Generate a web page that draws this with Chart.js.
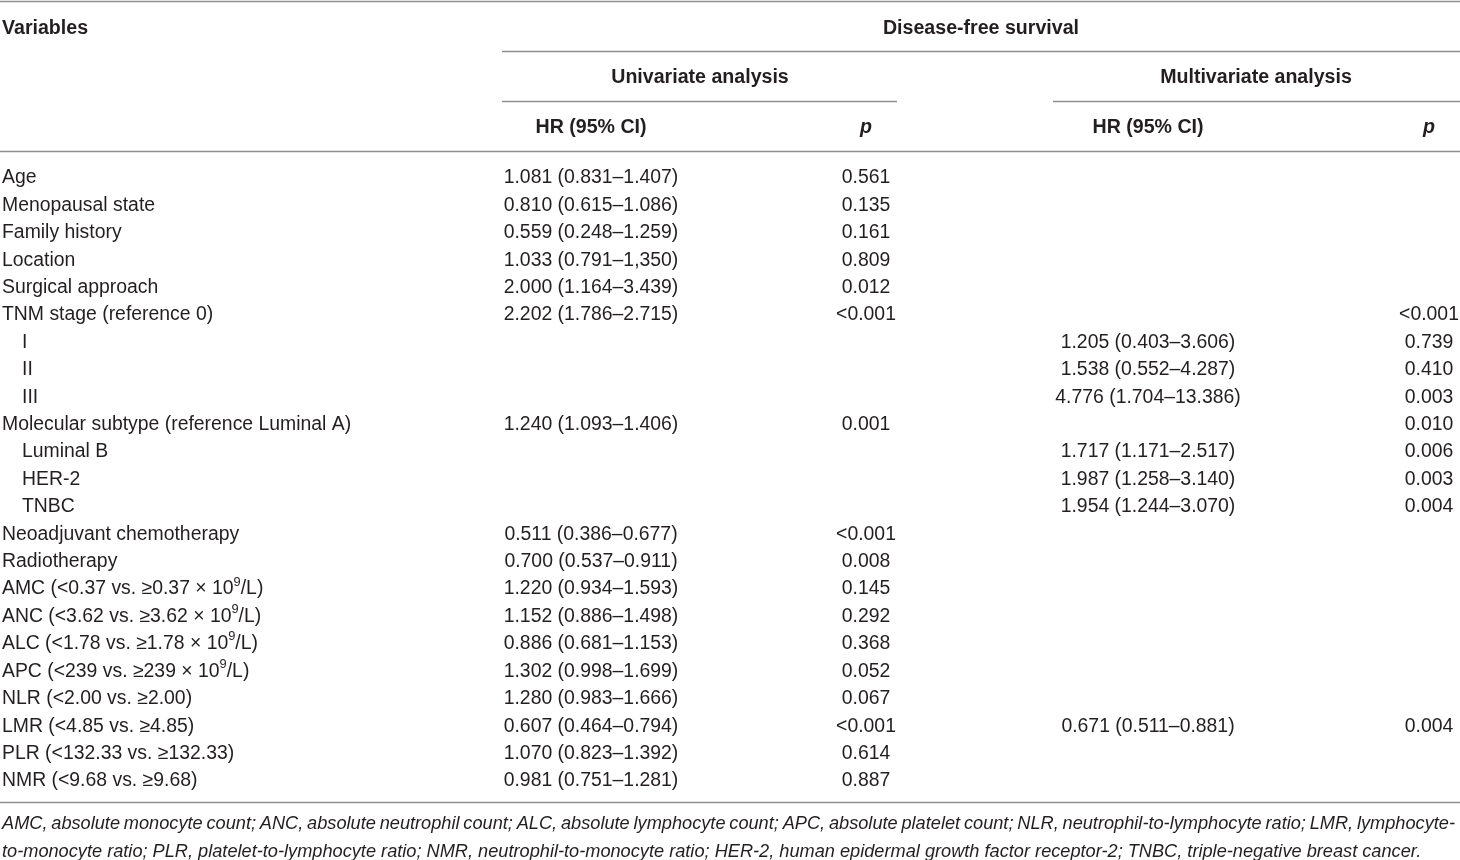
<!DOCTYPE html>
<html>
<head>
<meta charset="utf-8">
<script src="https://cdn.jsdelivr.net/npm/chart.js@4.4.1/dist/chart.umd.min.js"></script>
<style>
  html, body { margin: 0; padding: 0; background: #ffffff; }
  #wrap { position: relative; width: 1460px; height: 860px; }
</style>
</head>
<body>
<div id="wrap"><canvas id="c"></canvas></div>
<script>
// ---------------- DATA ----------------
const variables = [
  "Age", "Menopausal state", "Family history", "Location", "Surgical approach",
  "TNM stage (reference 0)", "I", "II", "III",
  "Molecular subtype (reference Luminal A)", "Luminal B", "HER-2", "TNBC",
  "Neoadjuvant chemotherapy", "Radiotherapy",
  "AMC (<0.37 vs. \u22650.37 \u00d7 10^9/L)",
  "ANC (<3.62 vs. \u22653.62 \u00d7 10^9/L)",
  "ALC (<1.78 vs. \u22651.78 \u00d7 10^9/L)",
  "APC (<239 vs. \u2265239 \u00d7 10^9/L)",
  "NLR (<2.00 vs. \u22652.00)",
  "LMR (<4.85 vs. \u22654.85)",
  "PLR (<132.33 vs. \u2265132.33)",
  "NMR (<9.68 vs. \u22659.68)"
];
const subLevel = [0,0,0,0,0,0,1,1,1,0,1,1,1,0,0,0,0,0,0,0,0,0,0];

const uniHR = [
  "1.081 (0.831\u20131.407)", "0.810 (0.615\u20131.086)", "0.559 (0.248\u20131.259)",
  "1.033 (0.791\u20131,350)", "2.000 (1.164\u20133.439)", "2.202 (1.786\u20132.715)",
  null, null, null,
  "1.240 (1.093\u20131.406)", null, null, null,
  "0.511 (0.386\u20130.677)", "0.700 (0.537\u20130.911)", "1.220 (0.934\u20131.593)",
  "1.152 (0.886\u20131.498)", "0.886 (0.681\u20131.153)", "1.302 (0.998\u20131.699)",
  "1.280 (0.983\u20131.666)", "0.607 (0.464\u20130.794)", "1.070 (0.823\u20131.392)",
  "0.981 (0.751\u20131.281)"
];
const uniP = [
  "0.561", "0.135", "0.161", "0.809", "0.012", "<0.001", null, null, null,
  "0.001", null, null, null, "<0.001", "0.008", "0.145", "0.292", "0.368",
  "0.052", "0.067", "<0.001", "0.614", "0.887"
];
const multiHR = [
  null, null, null, null, null, null,
  "1.205 (0.403\u20133.606)", "1.538 (0.552\u20134.287)", "4.776 (1.704\u201313.386)",
  null,
  "1.717 (1.171\u20132.517)", "1.987 (1.258\u20133.140)", "1.954 (1.244\u20133.070)",
  null, null, null, null, null, null, null,
  "0.671 (0.511\u20130.881)", null, null
];
const multiP = [
  null, null, null, null, null, "<0.001", "0.739", "0.410", "0.003",
  "0.010", "0.006", "0.003", "0.004", null, null, null, null, null, null, null,
  "0.004", null, null
];

const headerTop = ["Variables", "Disease-free survival"];
const headerMid = ["Univariate analysis", "Multivariate analysis"];
const headerLow = ["HR (95% CI)", "p", "HR (95% CI)", "p"];
const footnote = [
  "AMC, absolute monocyte count; ANC, absolute neutrophil count; ALC, absolute lymphocyte count; APC, absolute platelet count; NLR, neutrophil-to-lymphocyte ratio; LMR, lymphocyte-",
  "to-monocyte ratio; PLR, platelet-to-lymphocyte ratio; NMR, neutrophil-to-monocyte ratio; HER-2, human epidermal growth factor receptor-2; TNBC, triple-negative breast cancer."
];

// ---------------- LAYOUT ----------------
const FIRST_ROW_PX = 176, LAST_ROW_PX = 779;
const PITCH = (LAST_ROW_PX - FIRST_ROW_PX) / (variables.length - 1);
const rowAt = px => (px - FIRST_ROW_PX) / PITCH;   // convert layout pixel to row units
const TEXT_DY = 2;                                  // baseline nudge for 'middle'
const COL = { varX: 2, varIndent: 22, uniHR: 591, uniP: 866, multiHR: 1148, multiP: 1429,
              dfs: 981, uni: 700, multi: 1256 };
const ROWS = { top: rowAt(27), mid: rowAt(76), low: rowAt(126),
               rule0: rowAt(1), rule1: rowAt(50.5), rule2: rowAt(100.5), rule3: rowAt(150.5),
               rule4: rowAt(802), foot1: rowAt(822), foot2: rowAt(850) };
const FAM = '"Liberation Sans", Arial, Helvetica, sans-serif';
const TXT = '#231f20';
const RULE = '#8f8f8f';
const REG = '19.4px ' + FAM;
const BOLD = 'bold 19.6px ' + FAM;
const FOOT_JUSTIFY = 1453;

function pts(arr, xf, extra) {
  const out = [];
  arr.forEach((t, i) => { if (t !== null) out.push(Object.assign({ x: xf(i), y: i, text: t }, extra || {})); });
  return out;
}

const datasets = [
  { label: 'Variables', data: pts(variables, i => subLevel[i] ? COL.varIndent : COL.varX), align: 'left', font: REG },
  { label: 'Univariate HR', data: pts(uniHR, () => COL.uniHR), align: 'center', font: REG },
  { label: 'Univariate p', data: pts(uniP, () => COL.uniP), align: 'center', font: REG },
  { label: 'Multivariate HR', data: pts(multiHR, () => COL.multiHR), align: 'center', font: REG },
  { label: 'Multivariate p', data: pts(multiP, () => COL.multiP), align: 'center', font: REG },
  { label: 'Header top', data: [
      { x: COL.varX, y: ROWS.top, text: headerTop[0], align: 'left' },
      { x: COL.dfs, y: ROWS.top, text: headerTop[1] } ], align: 'center', font: BOLD },
  { label: 'Header mid', data: [
      { x: COL.uni, y: ROWS.mid, text: headerMid[0] },
      { x: COL.multi, y: ROWS.mid, text: headerMid[1] } ], align: 'center', font: BOLD },
  { label: 'Header low', data: [
      { x: COL.uniHR, y: ROWS.low, text: headerLow[0] },
      { x: COL.uniP, y: ROWS.low, text: headerLow[1], font: 'italic bold 19.6px ' + FAM },
      { x: COL.multiHR, y: ROWS.low, text: headerLow[2] },
      { x: COL.multiP, y: ROWS.low, text: headerLow[3], font: 'italic bold 19.6px ' + FAM } ], align: 'center', font: BOLD },
  { label: 'Footnote', data: footnote.map((t, k) => ({ x: COL.varX, y: k === 0 ? ROWS.foot1 : ROWS.foot2, text: t, justify: k === 0 ? FOOT_JUSTIFY : 0 })),
    align: 'left', font: 'italic 18.2px ' + FAM }
];
datasets.forEach(d => { d.pointRadius = 0; d.pointHoverRadius = 0; d.showLine = false; });

// horizontal rules: [y (row units), x0, x1]
const rules = [
  [ROWS.rule0, 0, 1460], [ROWS.rule1, 502, 1460], [ROWS.rule2, 502, 897], [ROWS.rule2, 1053, 1460],
  [ROWS.rule3, 0, 1460], [ROWS.rule4, 0, 1460]
];

const SUP = 0.66;
function supFont(font, size) { return font.replace(/[\d.]+px/, (size * SUP).toFixed(1) + 'px'); }
function richWidth(ctx, text, font, size) {
  const parts = text.split(/\^(\d+)/);
  let w = 0;
  parts.forEach((p, k) => {
    ctx.font = k % 2 ? supFont(font, size) : font;
    w += ctx.measureText(p).width;
  });
  return w;
}
function drawRich(ctx, text, x, y, align, font, justify) {
  const size = parseFloat(font.match(/([\d.]+)px/)[1]);
  ctx.textAlign = 'left';
  ctx.textBaseline = 'middle';
  y += TEXT_DY;
  if (justify) {
    ctx.font = font;
    const words = text.split(' ');
    const ww = words.map(w => ctx.measureText(w).width);
    const total = ww.reduce((a, b) => a + b, 0);
    const gap = (justify - total) / (words.length - 1);
    let cx = x;
    words.forEach((w, k) => { ctx.fillText(w, cx, y); cx += ww[k] + gap; });
    return;
  }
  const w = richWidth(ctx, text, font, size);
  let cx = align === 'center' ? x - w / 2 : (align === 'right' ? x - w : x);
  const parts = text.split(/\^(\d+)/);
  parts.forEach((p, k) => {
    if (k % 2) {
      ctx.font = supFont(font, size);
      ctx.fillText(p, cx, y - size * 0.36);
    } else {
      ctx.font = font;
      ctx.fillText(p, cx, y);
    }
    cx += ctx.measureText(p).width;
  });
}

const tablePlugin = {
  id: 'tablePlugin',
  afterDatasetsDraw(chart) {
    const ctx = chart.ctx;
    const xs = chart.scales.x, ys = chart.scales.y;
    ctx.save();
    ctx.strokeStyle = RULE;
    ctx.lineWidth = 1.4;
    rules.forEach(([r, x0, x1]) => {
      const y = Math.round(ys.getPixelForValue(r)) + 0.5;
      ctx.beginPath();
      ctx.moveTo(xs.getPixelForValue(x0), y);
      ctx.lineTo(xs.getPixelForValue(x1), y);
      ctx.stroke();
    });
    ctx.fillStyle = TXT;
    chart.data.datasets.forEach((ds, di) => {
      const meta = chart.getDatasetMeta(di);
      meta.data.forEach((el, j) => {
        const raw = ds.data[j];
        drawRich(ctx, raw.text, el.x, el.y, raw.align || ds.align, raw.font || ds.font, raw.justify);
      });
    });
    ctx.restore();
  }
};

new Chart(document.getElementById('c'), {
  type: 'scatter',
  data: { datasets },
  options: {
    responsive: true,
    maintainAspectRatio: false,
    animation: false,
    events: [],
    layout: { padding: 0 },
    plugins: { legend: { display: false }, tooltip: { enabled: false } },
    scales: {
      x: { type: 'linear', min: 0, max: 1460, display: false },
      y: { type: 'linear', reverse: true, min: rowAt(0), max: rowAt(860), display: false }
    }
  },
  plugins: [tablePlugin]
});
</script>
</body>
</html>
